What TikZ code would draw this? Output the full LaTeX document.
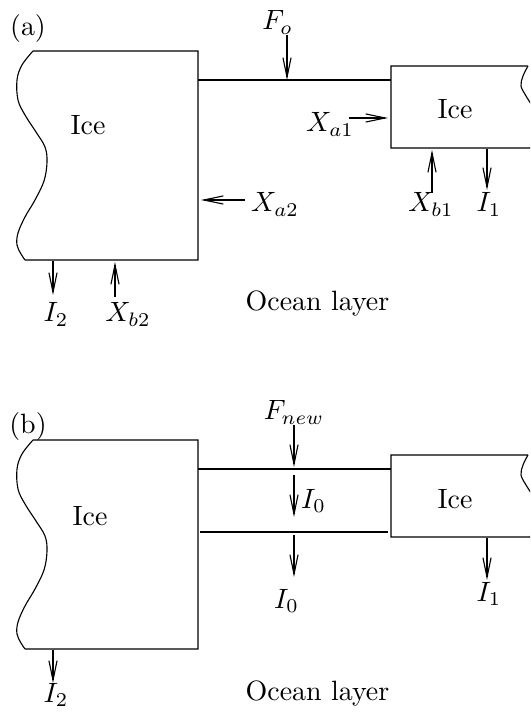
\documentclass[tikz,border=0pt]{standalone}
\usetikzlibrary{arrows.meta}
\begin{document}
\begin{tikzpicture}[x=0.358pt,y=-0.358pt,line width=0.4pt,
  flux/.style={-{Straight Barb[length=7pt,width=2.9pt]}},
  lbl/.style={anchor=base,inner sep=0pt},
  edge/.style={line width=0.4pt}]
\useasboundingbox (0,0) rectangle (530,715);
\clip (0,0) rectangle (530,715);

% ================= panel (a) =================
\node[lbl] (taga) at (28,36) {(a)};
% left ice block
\coordinate (aLtl) at (33,51);
\coordinate (aLtr) at (198,51);
\coordinate (aLbr) at (198,260);
\coordinate (aLbl) at (25,260);
\draw[edge] (aLbl) -- (aLbr) -- (aLtr) -- (aLtl)
  plot[smooth,tension=0.6] coordinates {(33,51) (22,65) (17,80) (18,100) (25,115) (36,132) (45,147) (47,162) (44,181) (35,200) (25,217) (18,233) (17,245) (21,254) (25,260)};
\node[lbl] (iceLa) at (88,135) {Ice};
% right ice block
\coordinate (aRtl) at (391,66);
\coordinate (aRbl) at (391,148);
\coordinate (aRtr) at (528,66);
\coordinate (aRbr) at (532,148);
\draw[edge] (aRbr) -- (aRbl) -- (aRtl) -- (aRtr)
  plot[smooth,tension=0.6] coordinates {(528,66) (523,76) (521,86) (526,96) (533,108) (538,125) (534,140) (530,148)};
\node[lbl] (iceRa) at (455,119) {Ice};
% ocean surface
\coordinate (aO1) at (198,80);
\coordinate (aO2) at (391,80);
\draw[edge] (aO1) -- (aO2);
\node[lbl] (oceana) at (317.5,311) {Ocean layer};
% fluxes
\node[lbl] (Fo) at (277.5,30) {$F_o$};
\coordinate (fo1) at (287,35); \coordinate (fo2) at (287,80);
\draw[flux] (fo1) -- (fo2);
\node[lbl] (Xa1) at (330,132) {$X_{a1}$};
\coordinate (xa1s) at (349,118); \coordinate (xa1e) at (388,118);
\draw[flux] (xa1s) -- (xa1e);
\node[lbl] (Xa2) at (275,212) {$X_{a2}$};
\coordinate (xa2s) at (245,200); \coordinate (xa2e) at (201,200);
\draw[flux] (xa2s) -- (xa2e);
\node[lbl] (I2a) at (56,322) {$I_2$};
\coordinate (i2as) at (53,261); \coordinate (i2ae) at (53,295);
\draw[flux] (i2as) -- (i2ae);
\node[lbl] (Xb2) at (128,322) {$X_{b2}$};
\coordinate (xb2s) at (115,297); \coordinate (xb2e) at (115,262);
\draw[flux] (xb2s) -- (xb2e);
\node[lbl] (Xb1) at (431,212) {$X_{b1}$};
\coordinate (xb1s) at (432,193); \coordinate (xb1e) at (432,150);
\draw[flux] (xb1s) -- (xb1e);
\node[lbl] (I1a) at (489,212) {$I_1$};
\coordinate (i1as) at (487,149); \coordinate (i1ae) at (487,190);
\draw[flux] (i1as) -- (i1ae);

% ================= panel (b) =================
\node[lbl] (tagb) at (28,434) {(b)};
\coordinate (bLtl) at (33,440);
\coordinate (bLtr) at (198,440);
\coordinate (bLbr) at (198,649);
\coordinate (bLbl) at (25,649);
\draw[edge] (bLbl) -- (bLbr) -- (bLtr) -- (bLtl)
  plot[smooth,tension=0.6] coordinates {(33,440) (22,454) (17,469) (18,489) (25,504) (36,521) (45,536) (47,551) (44,570) (35,589) (25,606) (18,622) (17,634) (21,643) (25,649)};
\node[lbl] (iceLb) at (90,525) {Ice};
\coordinate (bRtl) at (391,455);
\coordinate (bRbl) at (391,537);
\coordinate (bRtr) at (528,455);
\coordinate (bRbr) at (532,537);
\draw[edge] (bRbr) -- (bRbl) -- (bRtl) -- (bRtr)
  plot[smooth,tension=0.6] coordinates {(528,455) (523,465) (521,475) (526,485) (533,497) (538,514) (534,529) (530,537)};
\node[lbl] (iceRb) at (455,508) {Ice};
% new ice layer
\coordinate (bO1) at (198,469);
\coordinate (bO2) at (391,469);
\draw[edge] (bO1) -- (bO2);
\coordinate (bN1) at (200,532);
\coordinate (bN2) at (388,532);
\draw[edge] (bN1) -- (bN2);
\node[lbl] (oceanb) at (317.5,700) {Ocean layer};
% fluxes
\node[lbl] (Fnew) at (294,420) {$F_{new}$};
\coordinate (fn1) at (294,425); \coordinate (fn2) at (294,467);
\draw[flux] (fn1) -- (fn2);
\node[lbl] (I0in) at (313.5,508) {$I_0$};
\coordinate (i0s) at (294,475); \coordinate (i0e) at (294,517);
\draw[flux] (i0s) -- (i0e);
\node[lbl] (I0out) at (286.5,608) {$I_0$};
\coordinate (i0bs) at (294,535); \coordinate (i0be) at (294,577);
\draw[flux] (i0bs) -- (i0be);
\node[lbl] (I2b) at (56,702) {$I_2$};
\coordinate (i2bs) at (53,650); \coordinate (i2be) at (53,683);
\draw[flux] (i2bs) -- (i2be);
\node[lbl] (I1b) at (489,601) {$I_1$};
\coordinate (i1bs) at (487,538); \coordinate (i1be) at (487,580);
\draw[flux] (i1bs) -- (i1be);
\end{tikzpicture}
\end{document}
